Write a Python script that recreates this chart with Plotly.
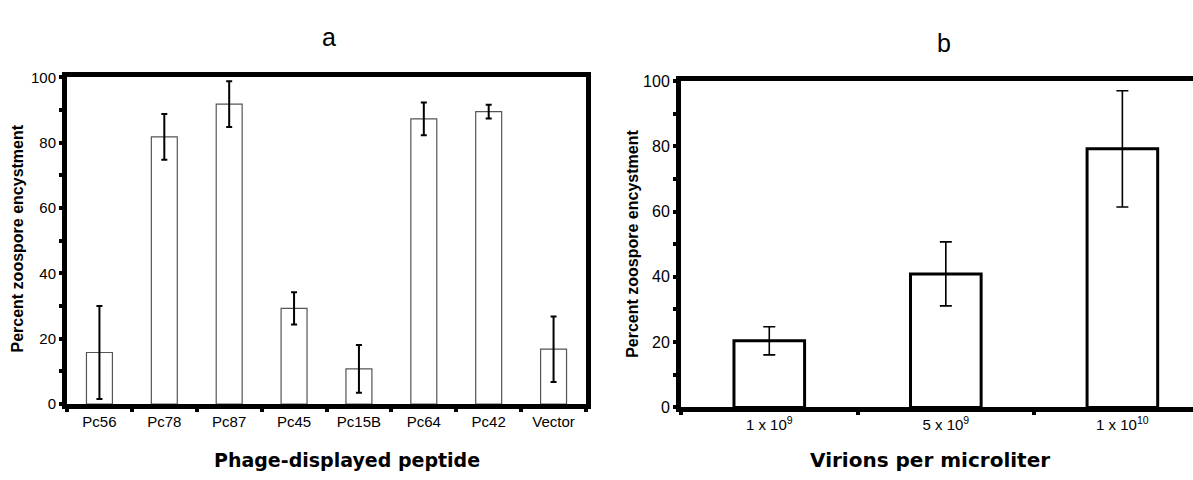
import plotly.graph_objects as go

# ---- data ----
peptides = ["Pc56", "Pc78", "Pc87", "Pc45", "Pc15B", "Pc64", "Pc42", "Vector"]
encyst_a = [15.8, 81.8, 91.8, 29.3, 10.8, 87.3, 89.5, 16.8]
err_a = [14.2, 7.0, 7.0, 4.9, 7.3, 5.0, 2.1, 10.0]

virions = ["1 x 10<sup>9</sup>", "5 x 10<sup>9</sup>", "1 x 10<sup>10</sup>"]
encyst_b = [20.4, 40.9, 79.2]
err_b = [4.3, 9.8, 17.8]

y_ticks = [0, 10, 20, 30, 40, 50, 60, 70, 80, 90, 100]
y_ticktext = ["0", "", "20", "", "40", "", "60", "", "80", "", "100"]

W, H = 1193, 480
FONT = "Liberation Sans, Arial, sans-serif"
HEAVY = "DejaVu Sans, sans-serif"


def px_x(x):
    return x / W


def px_y(y):
    return 1 - y / H


fig = go.Figure()

fig.add_trace(go.Bar(
    x=peptides, y=encyst_a, xaxis="x", yaxis="y",
    marker=dict(color="white", line=dict(color="#555555", width=1.2)),
    error_y=dict(type="data", array=err_a, visible=True, color="black",
                 thickness=2, width=3),
    showlegend=False,
))

fig.add_trace(go.Bar(
    x=virions, y=encyst_b, xaxis="x2", yaxis="y2",
    marker=dict(color="white", line=dict(color="black", width=3)),
    error_y=dict(type="data", array=err_b, visible=True, color="black",
                 thickness=1.6, width=6),
    showlegend=False,
))

common_x = dict(
    type="category", showline=True, linecolor="black", linewidth=5,
    mirror=True, ticks="outside", tickson="boundaries", ticklen=3,
    tickwidth=4, tickcolor="black", showgrid=False, zeroline=False,
    tickfont=dict(family=FONT, size=15, color="black"), fixedrange=True,
)
common_y = dict(
    range=[0, 100], tickvals=y_ticks, ticktext=y_ticktext,
    showline=True, linecolor="black", linewidth=5, ticks="outside",
    ticklen=3, tickwidth=4, tickcolor="black", showgrid=False,
    zeroline=False, fixedrange=True,
)

fig.update_layout(
    width=W, height=H,
    margin=dict(l=0, r=0, t=0, b=0),
    paper_bgcolor="white", plot_bgcolor="white",
    bargap=0.6,
    xaxis=dict(common_x, domain=[px_x(67), px_x(586)], anchor="y",
               range=[-0.5, 7.5]),
    yaxis=dict(common_y, domain=[px_y(410.5), px_y(71)], anchor="x",
               mirror=True,
               tickfont=dict(family=FONT, size=15, color="black")),
    xaxis2=dict(common_x, domain=[px_x(681), 1.0], anchor="y2",
                range=[-0.5, 2.4]),
    yaxis2=dict(common_y, domain=[px_y(414), px_y(74.7)], anchor="x2",
                mirror=False,
                tickfont=dict(family=FONT, size=16, color="black")),
    annotations=[
        dict(text="a", x=px_x(329), y=px_y(29), xref="paper", yref="paper",
             showarrow=False, xanchor="center", yanchor="middle",
             font=dict(family=FONT, size=25, color="black")),
        dict(text="b", x=px_x(944), y=px_y(35), xref="paper", yref="paper",
             showarrow=False, xanchor="center", yanchor="middle",
             font=dict(family=FONT, size=25, color="black")),
        dict(text="<b>Percent zoospore encystment</b>", textangle=-90,
             x=px_x(17.5), y=px_y(239), xref="paper", yref="paper",
             showarrow=False, xanchor="center", yanchor="middle",
             font=dict(family=FONT, size=16, color="black")),
        dict(text="<b>Percent zoospore encystment</b>", textangle=-90,
             x=px_x(633), y=px_y(244), xref="paper", yref="paper",
             showarrow=False, xanchor="center", yanchor="middle",
             font=dict(family=FONT, size=16, color="black")),
        dict(text="<b>Phage-displayed peptide</b>",
             x=px_x(347), y=px_y(469), xref="paper", yref="paper",
             showarrow=False, xanchor="center", yanchor="middle",
             font=dict(family=HEAVY, size=19, color="black")),
        dict(text="<b>Virions per microliter</b>",
             x=px_x(930), y=px_y(469), xref="paper", yref="paper",
             showarrow=False, xanchor="center", yanchor="middle",
             font=dict(family=HEAVY, size=20, color="black")),
    ],
)

fig.write_html(
    "out.html",
    config={"displayModeBar": False},
    post_script="document.body.style.margin='0';document.documentElement.style.overflow='hidden';",
)
